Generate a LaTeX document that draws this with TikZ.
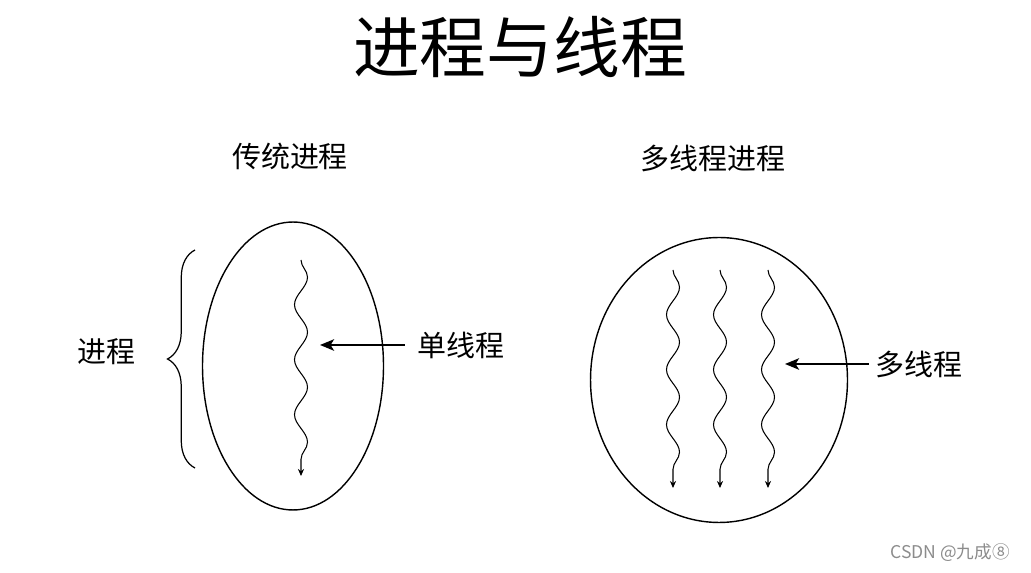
\documentclass[tikz,border=0pt]{standalone}
\usepackage{fontspec}
\setmainfont{Noto Sans CJK SC}
\usetikzlibrary{shapes.geometric,arrows.meta,positioning,decorations.pathmorphing,decorations.pathreplacing}

\begin{document}
\begin{tikzpicture}[x=0.02cm, y=-0.02cm, >={Stealth[length=8pt,width=6.5pt,inset=2pt]}]
    % Estilos
    \tikzstyle{proc} = [draw, ellipse, line width=0.8pt, inner sep=0pt]
    \tikzstyle{thread} = [line width=0.6pt, decorate, decoration={snake, amplitude=0.13cm, segment length=1.1cm, post length=1.5mm}, -{Stealth[length=4pt,width=3.5pt]}]
    \tikzstyle{pointer} = [->, line width=1.2pt]
    \tikzstyle{txt} = [font=\fontsize{16.5}{18}\selectfont, inner sep=0pt]

    \useasboundingbox (0,0) rectangle (1031,573);

    % --- Titulo ---
    \node [font=\fontsize{38}{40}\selectfont] (title) at (520,47) {进程与线程};

    % --- Proceso tradicional ---
    \node [txt] (trad) at (290,156) {传统进程};
    \node [proc, minimum width=3.62cm, minimum height=5.76cm] (proc1) at (293,366) {};
    \coordinate (t1s) at (301,260);
    \coordinate (t1e) at (301,476);
    \draw [thread] (t1s) -- (t1e);
    \coordinate (b1) at (195,468);
    \coordinate (b2) at (195,250);
    \draw [line width=0.7pt, decorate, decoration={brace, amplitude=0.55cm}] (b1) -- (b2);
    \node [txt] (procname) at (106,352) {进程};
    \coordinate (tip1) at (320,345);
    \node [txt, right=1.95cm of tip1] (single) {单线程};
    \draw [pointer] ([xshift=-0.25cm]single.west) -- (tip1);

    % --- Proceso multihilo ---
    \node [txt] (multi) at (713,158) {多线程进程};
    \node [proc, minimum width=5.14cm, minimum height=5.70cm] (proc2) at (719,380) {};
    \foreach \x [count=\i] in {673,720,768} {
        \coordinate (m\i s) at (\x,270);
        \coordinate (m\i e) at (\x,488);
        \draw [thread] (m\i s) -- (m\i e);
    }
    \coordinate (tip2) at (785,364);
    \node [txt, right=1.8cm of tip2] (many) {多线程};
    \draw [pointer] ([xshift=-0.12cm]many.west) -- (tip2);

    % --- Marca de agua ---
    \node [black!45, font=\fontsize{10}{12}\selectfont] (mark) at (950,553) {CSDN @九成⑧};
\end{tikzpicture}
\end{document}
